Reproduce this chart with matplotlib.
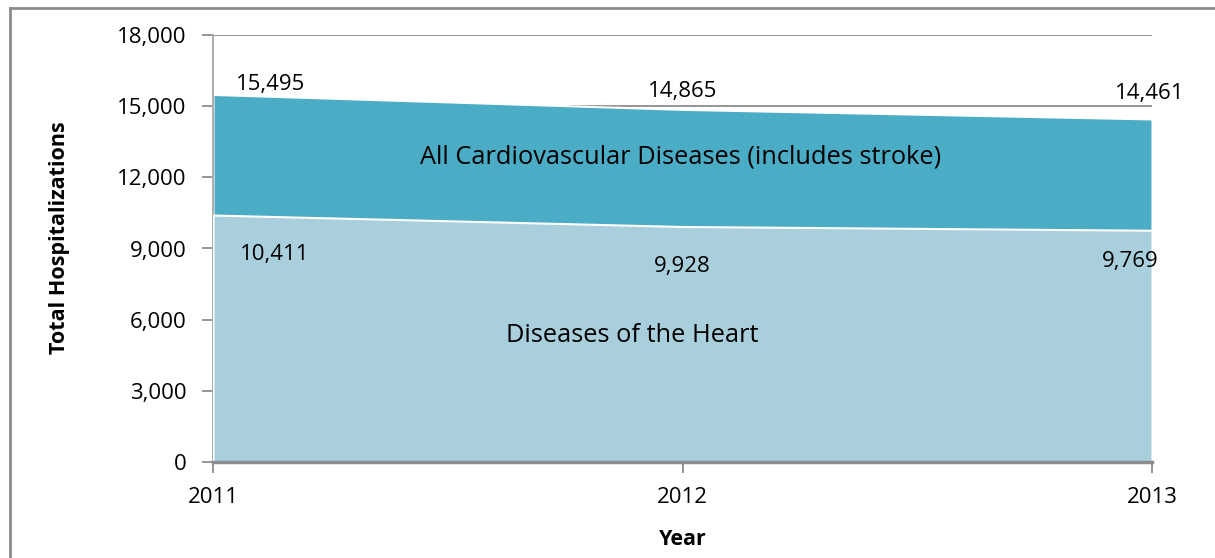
import matplotlib
matplotlib.use("Agg")
import matplotlib.pyplot as plt
from matplotlib.lines import Line2D

plt.rcParams["font.family"] = ["Open Sans", "DejaVu Sans"]

years = [2011, 2012, 2013]
cvd = [15495, 14865, 14461]
heart = [10411, 9928, 9769]
yticks = [0, 3000, 6000, 9000, 12000, 15000, 18000]

c_cvd = "#4BACC6"
c_heart = "#A9CFDD"
grey = "#8C8C8C"

W, H = 1215, 558
fig = plt.figure(figsize=(W / 100, H / 100), dpi=100)
ax = fig.add_axes([213 / W, 1 - 462 / H, (1152 - 213) / W, (462 - 35) / H])

ax.fill_between(years, 0, cvd, color=c_cvd, lw=1.5, edgecolor="white", zorder=2)
ax.fill_between(years, 0, heart, color=c_heart, lw=1.5, edgecolor="white", zorder=3)

ax.set_xlim(2011, 2013)
ax.set_ylim(0, 18000)
ax.set_yticks(yticks)
ax.set_yticklabels([f"{v:,}" for v in yticks])
ax.set_xticks(years)
ax.set_xticklabels([str(y) for y in years])
ax.grid(axis="y", color=grey, lw=1.3, zorder=1)
ax.tick_params(axis="y", length=8, color=grey, width=1.3, labelsize=16, pad=11)
ax.tick_params(axis="x", length=8, color=grey, width=1.3, labelsize=16, pad=10)

for s in ["top", "right"]:
    ax.spines[s].set_visible(False)
ax.spines["left"].set_color("#A6A6A6")
ax.spines["left"].set_linewidth(1.3)
ax.spines["bottom"].set_color(grey)
ax.spines["bottom"].set_linewidth(2.5)
ax.spines["bottom"].set_zorder(5)

ax.set_ylabel("Total Hospitalizations", fontsize=15.5, fontweight="bold")
ax.yaxis.set_label_coords(-0.152, 0.525)
ax.set_xlabel("Year", fontsize=15.5, fontweight="bold", labelpad=15)

# data labels (offsets in pixels)
cvd_off = [(58, 10), (0, 18), (-2, 25)]
heart_off = [(62, -39), (0, -40), (-22, -31)]
for x, y, o in zip(years, cvd, cvd_off):
    ax.annotate(f"{y:,}", (x, y), xytext=o, textcoords="offset pixels",
                ha="center", va="center", fontsize=16, zorder=6)
for x, y, o in zip(years, heart, heart_off):
    ax.annotate(f"{y:,}", (x, y), xytext=o, textcoords="offset pixels",
                ha="center", va="center", fontsize=16, zorder=6)

ax.text(2011.995, 12860, "All Cardiovascular Diseases (includes stroke)",
        ha="center", va="center", fontsize=18.3, zorder=6)
ax.text(2011.892, 5350, "Diseases of the Heart", ha="center", va="center",
        fontsize=18.3, zorder=6)

# outer border (left and top only visible)
fig.add_artist(Line2D([10.5 / W, 10.5 / W], [0, 1 - 7.5 / H], color=grey, lw=2))
fig.add_artist(Line2D([10.5 / W, 1], [1 - 7.5 / H, 1 - 7.5 / H], color=grey, lw=2))

fig.savefig("out.png", dpi=100)
